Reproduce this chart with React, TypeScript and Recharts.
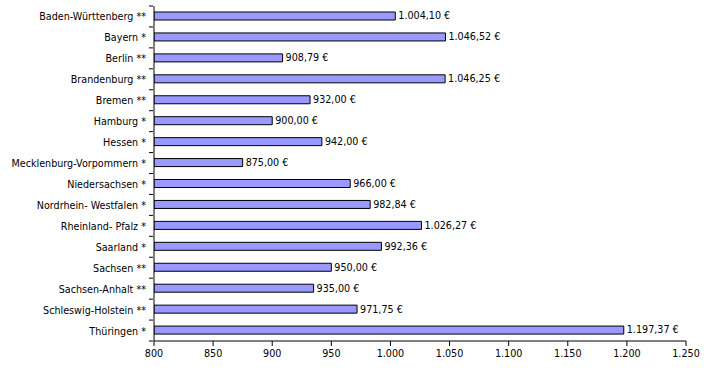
import React from "react";
import { BarChart, Bar, XAxis, YAxis, LabelList } from "recharts";

const states = [
  "Baden-Württenberg **",
  "Bayern *",
  "Berlin **",
  "Brandenburg **",
  "Bremen **",
  "Hamburg *",
  "Hessen *",
  "Mecklenburg-Vorpommern *",
  "Niedersachsen *",
  "Nordrhein- Westfalen *",
  "Rheinland- Pfalz *",
  "Saarland *",
  "Sachsen **",
  "Sachsen-Anhalt  **",
  "Schleswig-Holstein **",
  "Thüringen *",
];

const amounts = [
  1004.1, 1046.52, 908.79, 1046.25, 932.0, 900.0, 942.0, 875.0, 966.0, 982.84,
  1026.27, 992.36, 950.0, 935.0, 971.75, 1197.37,
];

const xTicks = [800, 850, 900, 950, 1000, 1050, 1100, 1150, 1200, 1250];

const data = states.map((name, i) => ({ name, value: amounts[i] }));

const FONT = "Tahoma, 'DejaVu Sans', Verdana, sans-serif";
const FS = 9.6;

const fmtTick = (v: number) => v.toLocaleString("de-DE");
const fmtValue = (v: any) =>
  Number(v).toLocaleString("de-DE", {
    minimumFractionDigits: 2,
    maximumFractionDigits: 2,
  }) + " €";

const BAND = 335 / 16;

const StateTick = (props: any) => {
  const { x, y, payload, index } = props;
  return (
    <g>
      <line x1={x + 3} x2={x + 7} y1={y - BAND / 2} y2={y - BAND / 2} stroke="#000" />
      {index === states.length - 1 && (
        <line x1={x + 3} x2={x + 7} y1={y + BAND / 2} y2={y + BAND / 2} stroke="#000" />
      )}
      <text x={x} y={y} dy={4} textAnchor="end" fontSize={FS} fill="#000" fontFamily={FONT}>
        {payload.value}
      </text>
    </g>
  );
};

export default function App() {
  return (
    <div style={{ position: "absolute", left: 0, top: 0, background: "#fff" }}>
      <BarChart
        width={714}
        height={375}
        data={data}
        layout="vertical"
        margin={{ top: 6, right: 28, bottom: 4, left: 0 }}
      >
        <XAxis
          type="number"
          domain={[800, 1250]}
          ticks={xTicks}
          allowDataOverflow
          tickFormatter={fmtTick}
          stroke="#000"
          tickSize={5}
          tickMargin={4}
          height={30}
          tick={{ fontSize: FS, fill: "#000", fontFamily: FONT }}
        />
        <YAxis
          type="category"
          dataKey="name"
          width={154}
          stroke="#000"
          tickLine={false}
          tick={<StateTick />}
          interval={0}
        />
        <Bar
          dataKey="value"
          fill="#9999FF"
          stroke="#000"
          strokeWidth={1}
          barSize={8}
          isAnimationActive={false}
        >
          <LabelList
            dataKey="value"
            position="right"
            offset={3}
            formatter={fmtValue}
            style={{ fontSize: FS, fill: "#000", fontFamily: FONT }}
          />
        </Bar>
      </BarChart>
    </div>
  );
}
